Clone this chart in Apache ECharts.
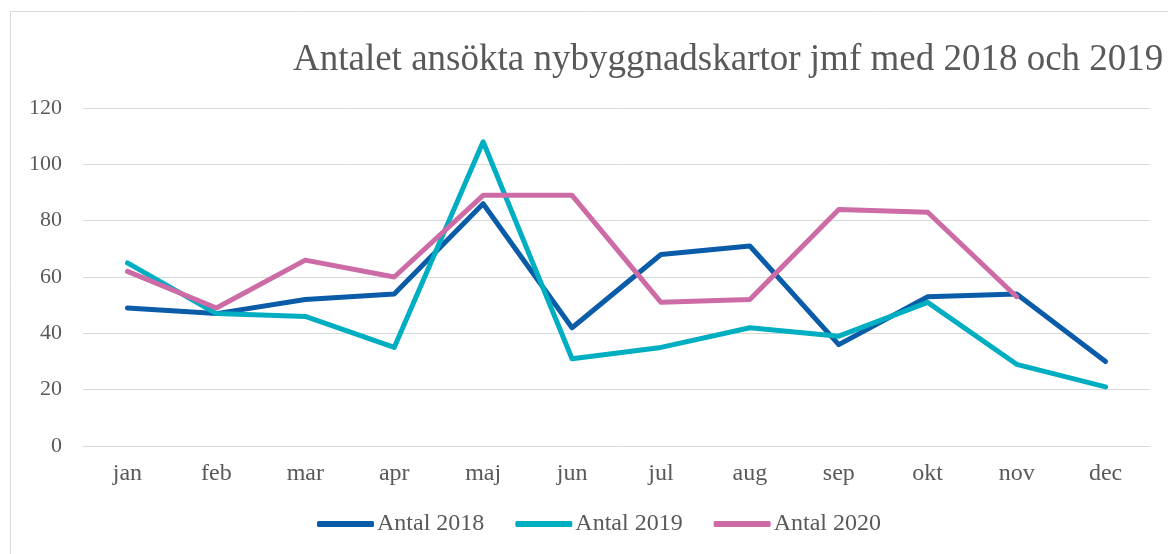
<!DOCTYPE html>
<html>
<head>
<meta charset="utf-8">
<script src="https://cdn.jsdelivr.net/npm/echarts@6/dist/echarts.min.js"></script>
<style>
  html, body { margin: 0; padding: 0; background: #fff; }
  #chart { width: 1168px; height: 554px; }
</style>
</head>
<body>
<div id="chart"></div>
<script>
var months = ["jan", "feb", "mar", "apr", "maj", "jun", "jul", "aug", "sep", "okt", "nov", "dec"];
var antal2018 = [49, 47, 52, 54, 86, 42, 68, 71, 36, 53, 54, 30];
var antal2019 = [65, 47, 46, 35, 108, 31, 35, 42, 39, 51, 29, 21];
var antal2020 = [62, 49, 66, 60, 89, 89, 51, 52, 84, 83, 53];

var font = "Liberation Serif";
var chart = echarts.init(document.getElementById("chart"));

function line(name, data, color) {
  return {
    name: name,
    type: "line",
    data: data,
    symbol: "none",
    color: color,
    lineStyle: { width: 5, color: color, cap: "round", join: "round" },
    animation: false
  };
}

chart.setOption({
  textStyle: { fontFamily: font },
  graphic: [
    {
      type: "rect",
      shape: { x: 10.5, y: 11.5, width: 1200, height: 600 },
      style: { fill: "none", stroke: "#d9d9d9", lineWidth: 1 },
      silent: true
    }
  ],
  title: {
    text: "Antalet ansökta nybyggnadskartor jmf med 2018 och 2019",
    left: 288,
    top: 37,
    textStyle: { fontFamily: font, fontSize: 37, fontWeight: "normal", color: "#595959" }
  },
  legend: {
    top: 507,
    left: 312,
    itemWidth: 57,
    itemHeight: 6,
    itemGap: 31,
    icon: "roundRect",
    textStyle: { fontFamily: font, fontSize: 24, color: "#595959", padding: [0, 0, 0, -2] },
    data: ["Antal 2018", "Antal 2019", "Antal 2020"]
  },
  grid: { left: 83, right: 18, top: 108, bottom: 108 },
  xAxis: {
    type: "category",
    data: months,
    boundaryGap: true,
    axisLine: { lineStyle: { color: "#d9d9d9", width: 1 } },
    axisTick: { show: false },
    axisLabel: { fontFamily: font, fontSize: 24, color: "#595959", margin: 16 }
  },
  yAxis: {
    type: "value",
    min: 0,
    max: 120,
    interval: 20,
    axisLine: { show: false },
    axisTick: { show: false },
    splitLine: { lineStyle: { color: "#d9d9d9", width: 1 } },
    axisLabel: { fontFamily: font, fontSize: 22, color: "#595959", margin: 21 }
  },
  series: [
    line("Antal 2018", antal2018, "#0b5ca8"),
    line("Antal 2019", antal2019, "#00aec1"),
    line("Antal 2020", antal2020, "#cc6ba5")
  ]
});
</script>
</body>
</html>
